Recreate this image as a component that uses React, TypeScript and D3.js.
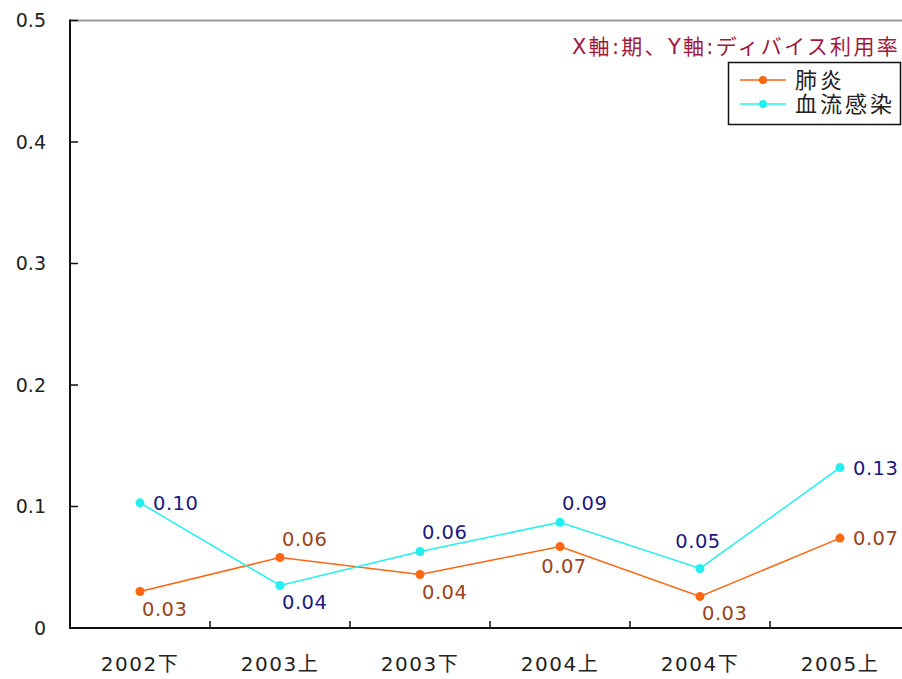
import React from "react";
import * as d3 from "d3";

const categories = ["2002下", "2003上", "2003下", "2004上", "2004下", "2005上"];
const pneumonia = [0.03, 0.058, 0.044, 0.067, 0.026, 0.074];
const bloodstream = [0.103, 0.035, 0.063, 0.087, 0.049, 0.132];
const pneumoniaLabels = ["0.03", "0.06", "0.04", "0.07", "0.03", "0.07"];
const bloodstreamLabels = ["0.10", "0.04", "0.06", "0.09", "0.05", "0.13"];
const pneumoniaLabelPos = ["belowRight", "aboveRight", "belowRight", "below", "belowRight", "right"];
const bloodstreamLabelPos = ["right", "belowRight", "aboveRight", "aboveRight", "above", "right"];
const yTicks = [0, 0.1, 0.2, 0.3, 0.4, 0.5];
const yTickLabels = ["0", "0.1", "0.2", "0.3", "0.4", "0.5"];
const seriesNames = ["肺炎", "血流感染"];
const title = "X軸:期、Y軸:ディバイス利用率";

const W = 902;
const H = 679;
const left = 70;
const top = 20.5;
const bottom = 628;
const bandW = 140;

const numFont = "'DejaVu Sans', sans-serif";
const cjkFont = "'DejaVu Sans', 'Noto Sans CJK JP', sans-serif";

function labelOffset(pos: string) {
  switch (pos) {
    case "right":
      return { dx: 13, dy: 0, anchor: "start" };
    case "belowRight":
      return { dx: 2, dy: 17, anchor: "start" };
    case "aboveRight":
      return { dx: 2, dy: -19, anchor: "start" };
    case "above":
      return { dx: -2, dy: -27, anchor: "middle" };
    case "below":
      return { dx: 4, dy: 19, anchor: "middle" };
    default:
      return { dx: 0, dy: 0, anchor: "start" };
  }
}

export default function App() {
  const x = d3
    .scaleBand<string>()
    .domain(categories)
    .range([left, left + bandW * categories.length]);
  const y = d3.scaleLinear().domain([0, 0.5]).range([bottom, top]);
  const cx = (c: string) => (x(c) as number) + x.bandwidth() / 2;
  const line = d3
    .line<number>()
    .x((_, i) => cx(categories[i]))
    .y((v) => y(v));

  const series = [
    { name: seriesNames[0], values: pneumonia, labels: pneumoniaLabels, pos: pneumoniaLabelPos, color: "#FF6611", labelColor: "#994422" },
    { name: seriesNames[1], values: bloodstream, labels: bloodstreamLabels, pos: bloodstreamLabelPos, color: "#22F0F0", labelColor: "#1a1a80" },
  ];

  const boundaries = categories.map((c) => x(c) as number).slice(1);

  return (
    <svg width={W} height={H} style={{ position: "absolute", left: 0, top: 0, background: "#fff" }}>
      <rect x={0} y={0} width={W} height={H} fill="#fff" />
      <line x1={left} x2={W} y1={top} y2={top} stroke="#999" strokeWidth={2} />
      <line x1={left} x2={left} y1={top - 1} y2={bottom + 1} stroke="#111" strokeWidth={2} />
      <line x1={left - 1} x2={W} y1={bottom} y2={bottom} stroke="#111" strokeWidth={2} />
      {yTicks.map((t, i) => (
        <g key={"yt" + i}>
          <line x1={left} x2={left + 8} y1={y(t)} y2={y(t)} stroke="#111" strokeWidth={1.5} />
          <text x={46} y={y(t)} dy="0.36em" textAnchor="end" fontFamily={numFont} fontSize={19} fill="#222">
            {yTickLabels[i]}
          </text>
        </g>
      ))}
      {boundaries.map((b, i) => (
        <line key={"xt" + i} x1={b} x2={b} y1={bottom} y2={bottom - 7} stroke="#111" strokeWidth={1.5} />
      ))}
      {categories.map((c) => (
        <text key={c} x={cx(c)} y={671} textAnchor="middle" fontFamily={cjkFont} fontSize={20} fill="#222" letterSpacing={1.5}>
          {c}
        </text>
      ))}
      {series.map((s) => (
        <g key={s.name}>
          <path d={line(s.values) || ""} fill="none" stroke={s.color} strokeWidth={1.5} />
          {s.values.map((v, i) => (
            <circle key={i} cx={cx(categories[i])} cy={y(v)} r={4.5} fill={s.color} />
          ))}
          {s.values.map((v, i) => {
            const o = labelOffset(s.pos[i]);
            return (
              <text
                key={"l" + i}
                x={cx(categories[i]) + o.dx}
                y={y(v) + o.dy}
                dy="0.36em"
                textAnchor={o.anchor}
                fontFamily={numFont}
                fontSize={19.5}
                fill={s.labelColor}
                letterSpacing={0.5}
              >
                {s.labels[i]}
              </text>
            );
          })}
        </g>
      ))}
      <text x={900} y={46} dy="0.36em" textAnchor="end" fontFamily={cjkFont} fontSize={21} fill="#A01840" letterSpacing={2.3}>
        {title}
      </text>
      <rect x={728.5} y={62.5} width={172} height={62} fill="#fff" stroke="#111" strokeWidth={1.5} />
      {series.map((s, i) => (
        <g key={"lg" + i}>
          <line x1={740} x2={786} y1={80 + i * 24} y2={80 + i * 24} stroke={s.color} strokeWidth={1.5} />
          <circle cx={763} cy={80 + i * 24} r={4} fill={s.color} />
          <text x={795} y={80 + i * 24} dy="0.36em" fontFamily={cjkFont} fontSize={22} fill="#222" letterSpacing={3}>
            {s.name}
          </text>
        </g>
      ))}
    </svg>
  );
}
